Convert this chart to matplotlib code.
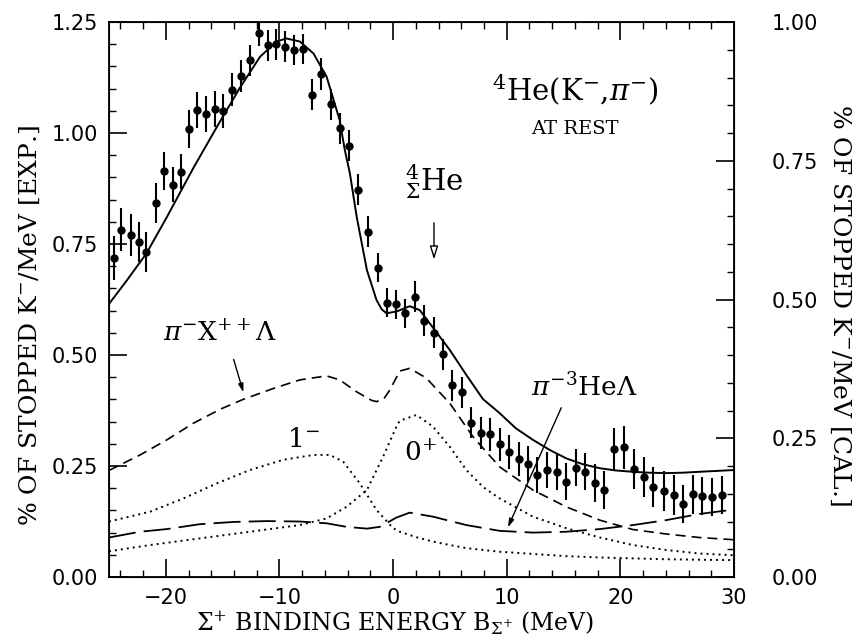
import matplotlib
matplotlib.use('Agg')
import matplotlib.pyplot as plt
from matplotlib.ticker import MultipleLocator, FormatStrFormatter

# experimental points (left scale, % of stopped K- / MeV)
exp_x = [-24.6, -23.9, -23.1, -22.4, -21.7, -20.9, -20.2, -19.4, -18.7, -18.0,
         -17.25, -16.5, -15.7, -15.0, -14.2, -13.4, -12.6, -11.8, -11.0, -10.3,
         -9.5, -8.7, -7.9, -7.1, -6.3, -5.45, -4.65, -3.9, -3.1, -2.2,
         -1.37, -0.52, 0.27, 1.09, 1.9, 2.72, 3.56, 4.37, 5.2, 6.03,
         6.87, 7.7, 8.5, 9.38, 10.2, 11.05, 11.9, 12.7, 13.55, 14.4,
         15.24, 16.1, 16.93, 17.8, 18.6, 19.48, 20.3, 21.2, 22.05, 22.9,
         23.8, 24.7, 25.5, 26.4, 27.2, 28.07, 28.95]
exp_y = [0.719, 0.782, 0.770, 0.755, 0.731, 0.842, 0.915, 0.884, 0.913, 1.009,
         1.052, 1.043, 1.054, 1.050, 1.098, 1.129, 1.164, 1.225, 1.198, 1.200,
         1.194, 1.187, 1.189, 1.086, 1.133, 1.065, 1.011, 0.971, 0.872, 0.778,
         0.697, 0.618, 0.614, 0.594, 0.631, 0.577, 0.550, 0.502, 0.432, 0.416,
         0.348, 0.324, 0.321, 0.299, 0.281, 0.265, 0.254, 0.230, 0.241, 0.236,
         0.215, 0.246, 0.237, 0.212, 0.196, 0.288, 0.292, 0.243, 0.226, 0.203,
         0.194, 0.185, 0.164, 0.186, 0.183, 0.181, 0.185]
exp_err = [0.050, 0.048, 0.048, 0.045, 0.045, 0.045, 0.043, 0.040, 0.040, 0.042,
           0.040, 0.040, 0.040, 0.038, 0.038, 0.036, 0.035, 0.030, 0.035, 0.035,
           0.035, 0.033, 0.033, 0.035, 0.035, 0.035, 0.035, 0.035, 0.035, 0.035,
           0.033, 0.033, 0.033, 0.033, 0.035, 0.035, 0.035, 0.035, 0.035, 0.035,
           0.036, 0.036, 0.037, 0.037, 0.038, 0.038, 0.040, 0.040, 0.040, 0.040,
           0.042, 0.042, 0.042, 0.042, 0.042, 0.048, 0.048, 0.045, 0.045, 0.045,
           0.045, 0.045, 0.043, 0.043, 0.043, 0.043, 0.043]

tot_x = [-25, -23.4, -21.7, -19.9, -17.6, -15.5, -13.5, -11.7, -10.25, -9.4,
         -8.2, -7.0, -5.85, -4.7, -4.25, -3.8, -3.2, -2.3, -1.46, -1.0,
         -0.58, 0.3, 1.47, 2.35, 3.5, 5.0, 6.45, 7.9, 9.38, 10.8,
         12.3, 13.8, 15.26, 16.7, 18.2, 19.6, 21.1, 22.5, 24.0, 25.5,
         26.95, 28.5, 30]
tot_y = [0.615, 0.669, 0.729, 0.811, 0.920, 1.014, 1.101, 1.172, 1.206, 1.213,
         1.206, 1.179, 1.127, 1.029, 0.962, 0.909, 0.811, 0.691, 0.624, 0.603,
         0.594, 0.598, 0.610, 0.601, 0.562, 0.511, 0.455, 0.401, 0.369, 0.335,
         0.309, 0.286, 0.267, 0.254, 0.245, 0.240, 0.237, 0.235, 0.234, 0.235,
         0.237, 0.239, 0.241]

xpp_x = [-25, -22.26, -19.9, -17.6, -15.2, -13.2, -10.5, -8.2, -5.85, -4.7,
         -3.2, -1.9, -1.46, -0.8, -0.29, 0.59, 1.47, 2.93, 5.0, 7.03,
         9.38, 12.3, 15.24, 18.2, 21.1, 24.0, 26.95, 30]
xpp_y = [0.240, 0.275, 0.309, 0.346, 0.378, 0.400, 0.425, 0.444, 0.453, 0.444,
         0.417, 0.398, 0.395, 0.402, 0.421, 0.464, 0.470, 0.448, 0.391, 0.316,
         0.248, 0.196, 0.158, 0.128, 0.107, 0.097, 0.089, 0.084]

he3_x = [-25, -22.26, -19.9, -17.0, -14.06, -11.1, -8.2, -5.85, -4.1, -2.3,
         -1.17, 0.3, 1.47, 3.5, 6.45, 9.38, 12.3, 15.24, 18.2, 21.1,
         24.0, 26.95, 30]
he3_y = [0.089, 0.102, 0.108, 0.119, 0.124, 0.126, 0.125, 0.121, 0.113, 0.109,
         0.113, 0.134, 0.145, 0.136, 0.117, 0.104, 0.100, 0.102, 0.108, 0.117,
         0.128, 0.142, 0.152]

m1_x = [-25, -21.4, -18.45, -15.5, -12.6, -9.67, -7.0, -5.56, -4.4, -2.93,
        -1.46, 0.0, 0.59, 2.0, 3.5, 5.0, 6.45, 9.38, 12.3, 15.24,
        18.2, 21.1, 24.0, 27.0, 30]
m1_y = [0.125, 0.147, 0.177, 0.211, 0.241, 0.264, 0.275, 0.275, 0.260, 0.211,
        0.151, 0.110, 0.102, 0.090, 0.080, 0.072, 0.065, 0.057, 0.052, 0.047,
        0.044, 0.042, 0.040, 0.039, 0.038]

p0_x = [-25, -21.4, -17.0, -12.6, -8.2, -5.85, -4.1, -2.3, -0.88, 0.3,
        0.59, 2.05, 3.5, 5.0, 6.45, 7.9, 9.38, 12.3, 15.24, 18.2,
        21.1, 24.0, 26.95, 30]
p0_y = [0.058, 0.072, 0.087, 0.102, 0.117, 0.132, 0.158, 0.196, 0.271, 0.339,
        0.352, 0.365, 0.339, 0.293, 0.241, 0.203, 0.177, 0.136, 0.110, 0.089,
        0.072, 0.061, 0.053, 0.049]

plt.rcParams['font.family'] = 'DejaVu Serif'
plt.rcParams['mathtext.fontset'] = 'dejavuserif'

fig = plt.figure(figsize=(8.54, 6.4), dpi=100)
ax = fig.add_axes([0.1276, 0.0984, 0.7319, 0.8672])

ax.errorbar(exp_x, exp_y, yerr=exp_err, fmt='o', color='black', ms=5,
            elinewidth=1.5, capsize=0)
ax.plot(tot_x, tot_y, color='black', lw=1.4)
ax.plot(xpp_x, xpp_y, color='black', lw=1.2, ls=(0, (6, 3.6)))
ax.plot(he3_x, he3_y, color='black', lw=1.3, ls=(0, (15, 4.5)))
ax.plot(m1_x, m1_y, color='black', lw=1.4, ls=(0, (1, 2.1)))
ax.plot(p0_x, p0_y, color='black', lw=1.4, ls=(0, (1, 2.1)))

ax.set_xlim(-25, 30)
ax.set_ylim(0, 1.25)
ax.xaxis.set_major_locator(MultipleLocator(10))
ax.xaxis.set_minor_locator(MultipleLocator(2))
ax.yaxis.set_major_locator(MultipleLocator(0.25))
ax.yaxis.set_minor_locator(MultipleLocator(0.05))
ax.yaxis.set_major_formatter(FormatStrFormatter('%.2f'))
ax.tick_params(which='both', direction='in', top=True, right=False)
ax.tick_params(which='major', length=13, width=1.2)
ax.tick_params(which='minor', length=5, width=1.0)
ax.tick_params(axis='x', labelsize=15, pad=8, labelfontfamily='DejaVu Sans')
ax.tick_params(axis='y', labelsize=15, pad=8, labelfontfamily='DejaVu Sans')
for s in ax.spines.values():
    s.set_linewidth(1.3)

ax2 = ax.twinx()
ax2.set_ylim(0, 1.0)
ax2.yaxis.set_major_locator(MultipleLocator(0.25))
ax2.yaxis.set_minor_locator(MultipleLocator(0.05))
ax2.yaxis.set_major_formatter(FormatStrFormatter('%.2f'))
ax2.tick_params(which='both', direction='in')
ax2.tick_params(which='major', length=13, width=1.2)
ax2.tick_params(which='minor', length=5, width=1.0)
ax2.tick_params(axis='y', labelsize=15, pad=27, labelfontfamily='DejaVu Sans')

# annotations
ax.text(16.05, 1.097, r'$^{4}$He(K$^{-}$,$\pi^{-}$)', fontsize=21,
        ha='center', va='center')
ax.text(16.0, 1.009, 'AT REST', fontsize=14, ha='center', va='center')
ax.text(3.6, 0.89, r'${}^{4}_{\Sigma}\mathrm{He}$', fontsize=21,
        ha='center', va='center')
ax.annotate('', xy=(3.6, 0.709), xytext=(3.6, 0.804),
            arrowprops=dict(arrowstyle='-|>,head_length=0.8,head_width=0.25',
                            fc='white', ec='black', lw=1.0))
ax.text(-15.2, 0.55, r'$\pi^{-}$X$^{++}\Lambda$', fontsize=19,
        ha='center', va='center')
ax.annotate('', xy=(-13.1, 0.41), xytext=(-14.1, 0.496),
            arrowprops=dict(arrowstyle='-|>,head_length=0.5,head_width=0.15',
                            color='black', lw=1.0))
ax.text(-7.9, 0.31, r'1$^{-}$', fontsize=19, ha='center', va='center')
ax.text(2.4, 0.28, r'0$^{+}$', fontsize=19, ha='center', va='center')
ax.text(16.8, 0.428, r'$\pi^{-3}$He$\Lambda$', fontsize=19,
        ha='center', va='center')
ax.annotate('', xy=(10.0, 0.106), xytext=(14.9, 0.387),
            arrowprops=dict(arrowstyle='-|>,head_length=0.5,head_width=0.15',
                            color='black', lw=1.0))

fig.text(0.035, 0.492, r'% OF STOPPED K$^{-}$/MeV [EXP.]', rotation=90,
         ha='center', va='center', fontsize=18)
fig.text(0.984, 0.523, r'% OF STOPPED K$^{-}$/MeV [CAL.]', rotation=-90,
         ha='center', va='center', fontsize=18)
fig.text(0.4625, 0.005, r'$\Sigma^{+}$ BINDING ENERGY B$_{\Sigma^{+}}$ (MeV)',
         ha='center', va='bottom', fontsize=17)

fig.savefig('out.png', dpi=100)
